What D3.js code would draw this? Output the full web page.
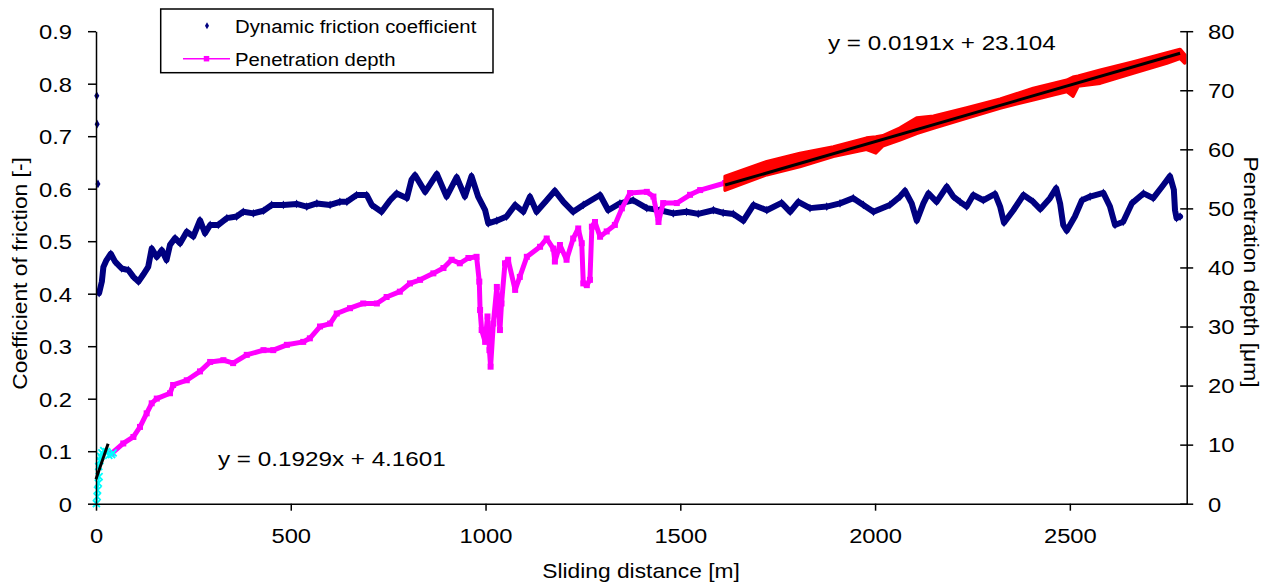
<!DOCTYPE html>
<html><head><meta charset="utf-8">
<script src="https://cdn.jsdelivr.net/npm/d3@7"></script>
<style>
body{margin:0;background:#fff;}
svg{display:block;font-family:"Liberation Sans",Arial,sans-serif;}
</style>
</head><body>
<svg id="chart" width="1272" height="588"></svg>
<script>
// ---------------- DATA ----------------
const xTicks = [0, 500, 1000, 1500, 2000, 2500];
const leftTicks = [0, 0.1, 0.2, 0.3, 0.4, 0.5, 0.6, 0.7, 0.8, 0.9];
const rightTicks = [0, 10, 20, 30, 40, 50, 60, 70, 80];

const legendLabels = ["Dynamic friction coefficient", "Penetration depth"];
const axisTitles = {x: "Sliding distance [m]", left: "Coefficient of friction [-]", right: "Penetration depth [\u03bcm]"};

// Dynamic friction coefficient (primary axis)
const frictionDistance = [2,3,5,
 8,15,19,27,38,49,66,83,96,109,121,134,143,156,169,181,190,203,216,233,250,267,280,293,314,336,361,378,404,430,451,481,515,541,567,601,626,644,669,695,708,733,755,772,798,810,819,845,875,900,926,947,964,981,999,1007,1029,1054,1076,1097,1114,1131,1157,1178,1200,1225,1251,1294,1315,1345,1379,1414,1448,1482,1516,1546,1585,1610,1636,1662,1688,1722,1760,1782,1803,1833,1876,1910,1944,1970,1996,2038,2064,2077,2094,2107,2124,2137,2158,2184,2201,2218,2235,2252,2278,2308,2321,2331,2355,2381,2406,2424,2449,2465,2475,2483,2492,2513,2531,2552,2586,2603,2616,2637,2659,2689,2714,2740,2757,2767,2770,2774,2783];
const frictionCoef = [0.777,0.723,0.609,
 0.401,0.423,0.451,0.464,0.476,0.461,0.448,0.445,0.432,0.423,0.436,0.451,0.486,0.470,0.483,0.464,0.493,0.506,0.496,0.518,0.509,0.540,0.515,0.531,0.531,0.544,0.547,0.556,0.553,0.558,0.569,0.569,0.571,0.566,0.572,0.569,0.575,0.575,0.588,0.588,0.569,0.556,0.578,0.591,0.582,0.617,0.626,0.594,0.628,0.585,0.622,0.585,0.624,0.585,0.559,0.534,0.539,0.547,0.569,0.556,0.585,0.556,0.578,0.596,0.575,0.556,0.569,0.588,0.559,0.572,0.578,0.563,0.559,0.553,0.556,0.552,0.559,0.554,0.552,0.539,0.569,0.559,0.573,0.556,0.575,0.563,0.566,0.572,0.582,0.569,0.556,0.569,0.585,0.596,0.572,0.539,0.572,0.591,0.575,0.604,0.585,0.575,0.566,0.588,0.578,0.590,0.566,0.535,0.559,0.588,0.575,0.561,0.582,0.601,0.572,0.531,0.520,0.547,0.578,0.585,0.592,0.566,0.531,0.537,0.572,0.591,0.582,0.607,0.624,0.598,0.559,0.544,0.547];
const frictionStartIsolated = 3; // first readings are isolated points

// Penetration depth (secondary axis)
const depthDistance = [40,70,96,113,130,143,156,190,198,233,267,293,327,352,387,430,455,490,532,549,575,601,618,652,686,721,746,780,806,832,866,892,913,934,956,977,984,986,990,999,1005,1010,1013,1020,1029,1037,1041,1050,1058,1076,1088,1106,1140,1157,1174,1178,1191,1208,1225,1238,1247,1251,1260,1268,1273,1281,1294,1311,1332,1350,1371,1414,1431,1444,1456,1491,1525,1551,1615];
const depthValue = [8.5,10.2,11.3,13.0,15.3,17.0,17.8,18.7,20.1,20.9,22.4,24.0,24.3,23.8,25.2,26.0,26.0,26.9,27.4,28.0,30.0,30.5,32.2,33.1,33.9,33.9,35.0,35.9,37.3,37.9,39.0,39.9,41.3,40.7,41.6,41.8,37.6,32.8,29.4,27.4,31.7,26.0,23.2,30.5,36.7,29.4,33.9,40.7,41.3,36.2,38.4,41.8,43.5,44.9,43.2,41.0,43.8,41.3,44.9,46.6,44.1,37.3,37.0,37.9,46.9,47.7,45.2,46.1,47.2,50.0,52.6,52.8,52.0,47.7,50.9,50.9,52.3,53.1,54.3];

// Early running-in depth readings (cyan)
const earlyDistance = [1,3,4,6,8,7,10,12,15,20,27,33,40,44];
const earlyDepth = [0,1.2,2.3,3.5,4.6,6.3,7.3,8.0,8.6,9.0,8.8,8.2,8.3,8.6];

// Steady-state depth readings (red band: upper / lower envelope)
const steadyDistance = [1615,1722,1807,1893,1978,2002,2020,2064,2107,2150,2235,2321,2406,2492,2508,2521,2578,2663,2749,2783,2795];
const steadyUpper = [55.4,57.9,59.3,60.4,61.9,62.1,62.3,63.6,65.3,65.6,67.0,68.5,70.3,71.7,72.2,72.4,73.4,74.8,76.3,76.9,76.0];
const steadyLower = [53.1,55.7,57.1,58.8,60.0,59.4,60.6,61.6,62.7,63.6,65.3,67.0,68.4,69.8,69.0,70.7,71.2,72.9,74.6,75.4,74.6];

// Linear trend lines: [slope, intercept, from, to]
const trendEarly = [0.1929, 4.1601, 0, 31];
const trendSteady = [0.0191, 23.104, 1615, 2783];
const trendLabels = ["y = 0.1929x + 4.1601", "y = 0.0191x + 23.104"];

// ---------------- CHART ----------------
const svg = d3.select("#chart");
const x = d3.scaleLinear().domain([0, 2800]).range([96, 1186.7]);
const yL = d3.scaleLinear().domain([0, 0.9]).range([503.7, 31.2]);
const yR = d3.scaleLinear().domain([0, 80]).range([503.7, 31.2]);

const NAVY = "#000080", MAG = "#ff00ff", CYAN = "#00ffff", RED = "#ff0000";

function txt(parent, tx, ty, str, size, sx, anchor, rot) {
  return parent.append("text")
    .attr("transform", `translate(${tx},${ty}) rotate(${rot || 0}) scale(${sx},1)`)
    .attr("text-anchor", anchor || "start")
    .attr("font-size", size)
    .attr("fill", "#000")
    .text(str);
}

// Friction series
const fr = frictionDistance.map((d, i) => ({d, v: frictionCoef[i]}));
svg.append("path").datum(fr.slice(frictionStartIsolated))
  .attr("fill", "none").attr("stroke", NAVY).attr("stroke-width", 6)
  .attr("stroke-linejoin", "round").attr("stroke-linecap", "round")
  .attr("d", d3.line().x(p => x(p.d)).y(p => yL(p.v)));
svg.append("g").selectAll("path").data(fr).join("path")
  .attr("transform", p => `translate(${x(p.d)},${yL(p.v)})`)
  .attr("d", d3.symbol(d3.symbolDiamond, 22)())
  .attr("fill", NAVY);

// Penetration depth
const dp = depthDistance.map((d, i) => ({d, v: depthValue[i]}));
svg.append("path").datum(dp)
  .attr("fill", "none").attr("stroke", MAG).attr("stroke-width", 5)
  .attr("stroke-linejoin", "round")
  .attr("d", d3.line().x(p => x(p.d)).y(p => yR(p.v)));
svg.append("g").selectAll("path").data(dp).join("path")
  .attr("transform", p => `translate(${x(p.d)},${yR(p.v)})`)
  .attr("d", d3.symbol(d3.symbolSquare, 36)())
  .attr("fill", MAG);

// Early (cyan)
const ed = earlyDistance.map((d, i) => ({d, v: earlyDepth[i]}));
svg.append("path").datum(ed)
  .attr("fill", "none").attr("stroke", CYAN).attr("stroke-width", 2)
  .attr("d", d3.line().x(p => x(p.d)).y(p => yR(p.v)));
svg.append("g").selectAll("path").data(ed).join("path")
  .attr("transform", p => `translate(${x(p.d)},${yR(p.v)})`)
  .attr("d", "M-3.5,-3.5L3.5,3.5M-3.5,3.5L3.5,-3.5")
  .attr("stroke", CYAN).attr("stroke-width", 1.8).attr("fill", "none");

// Steady (red band)
const sd = steadyDistance.map((d, i) => ({d, hi: steadyUpper[i], lo: steadyLower[i]}));
svg.append("path").datum(sd)
  .attr("fill", RED).attr("stroke", RED).attr("stroke-width", 3.5)
  .attr("stroke-linejoin", "round")
  .attr("d", d3.area().x(p => x(p.d)).y0(p => yR(p.lo)).y1(p => yR(p.hi)));

// Trend lines
[trendEarly, trendSteady].forEach(t => {
  const pts = [t[2], t[3]].map(d => ({d, v: t[0] * d + t[1]}));
  svg.append("path").datum(pts)
    .attr("fill", "none").attr("stroke", "#000").attr("stroke-width", 3)
    .attr("d", d3.line().x(p => x(p.d)).y(p => yR(p.v)));
});

// Axes
function styleAxis(g) {
  g.attr("font-size", null).attr("font-family", null);
  g.selectAll(".domain").attr("stroke-width", 1.5);
  g.selectAll(".tick line").attr("stroke-width", 1.5);
  g.selectAll(".tick text").attr("font-size", 20.5).attr("fill", "#000");
}
const gx = svg.append("g").attr("transform", "translate(0,503.7)")
  .call(d3.axisBottom(x).tickValues(xTicks).tickSize(7).tickSizeOuter(0).tickFormat(d3.format("d")));
styleAxis(gx);
gx.selectAll(".tick text").attr("y", null).attr("dy", null)
  .attr("transform", "translate(0,39.3) scale(1.16,1)");

const gl = svg.append("g").attr("transform", "translate(96,0)")
  .call(d3.axisLeft(yL).tickValues(leftTicks).tickSize(8).tickSizeOuter(0).tickFormat(d3.format("~g")));
styleAxis(gl);
gl.selectAll(".tick text").attr("x", null).attr("dy", null)
  .attr("transform", "translate(-24,7.3) scale(1.16,1)");

const gr = svg.append("g").attr("transform", "translate(1186.7,0)")
  .call(d3.axisRight(yR).tickValues(rightTicks).tickSize(7).tickSizeOuter(0).tickFormat(d3.format("d")));
styleAxis(gr);
gr.selectAll(".tick line").attr("x1", -6.5).attr("x2", 6.5);
gr.selectAll(".tick text").attr("x", null).attr("dy", null)
  .attr("transform", "translate(21.3,7.3) scale(1.16,1)");

// Axis titles
txt(svg, 641, 578, axisTitles.x, 20, 1.14, "middle");
txt(svg, 27, 273.5, axisTitles.left, 20, 1.14, "middle", -90);
txt(svg, 1244, 272, axisTitles.right, 20, 1.14, "middle", 90);

// Trend equations
txt(svg, 218, 465.7, trendLabels[0], 21, 1.155, "start");
txt(svg, 828, 49.5, trendLabels[1], 21, 1.155, "start");

// Legend
const lg = svg.append("g");
lg.append("rect").attr("x", 160.7).attr("y", 9).attr("width", 332.3).attr("height", 63.7)
  .attr("fill", "#fff").attr("stroke", "#000").attr("stroke-width", 1.5);
lg.append("path").attr("transform", "translate(207,25.7)")
  .attr("d", d3.symbol(d3.symbolDiamond, 14)()).attr("fill", NAVY);
txt(lg, 235, 33, legendLabels[0], 18, 1.13, "start");
lg.append("line").attr("x1", 183).attr("x2", 230).attr("y1", 58.7).attr("y2", 58.7)
  .attr("stroke", MAG).attr("stroke-width", 1.5);
lg.append("path").attr("transform", "translate(206.5,58.7)")
  .attr("d", d3.symbol(d3.symbolSquare, 30)()).attr("fill", MAG);
txt(lg, 235, 65.5, legendLabels[1], 18, 1.13, "start");
</script>
</body></html>
